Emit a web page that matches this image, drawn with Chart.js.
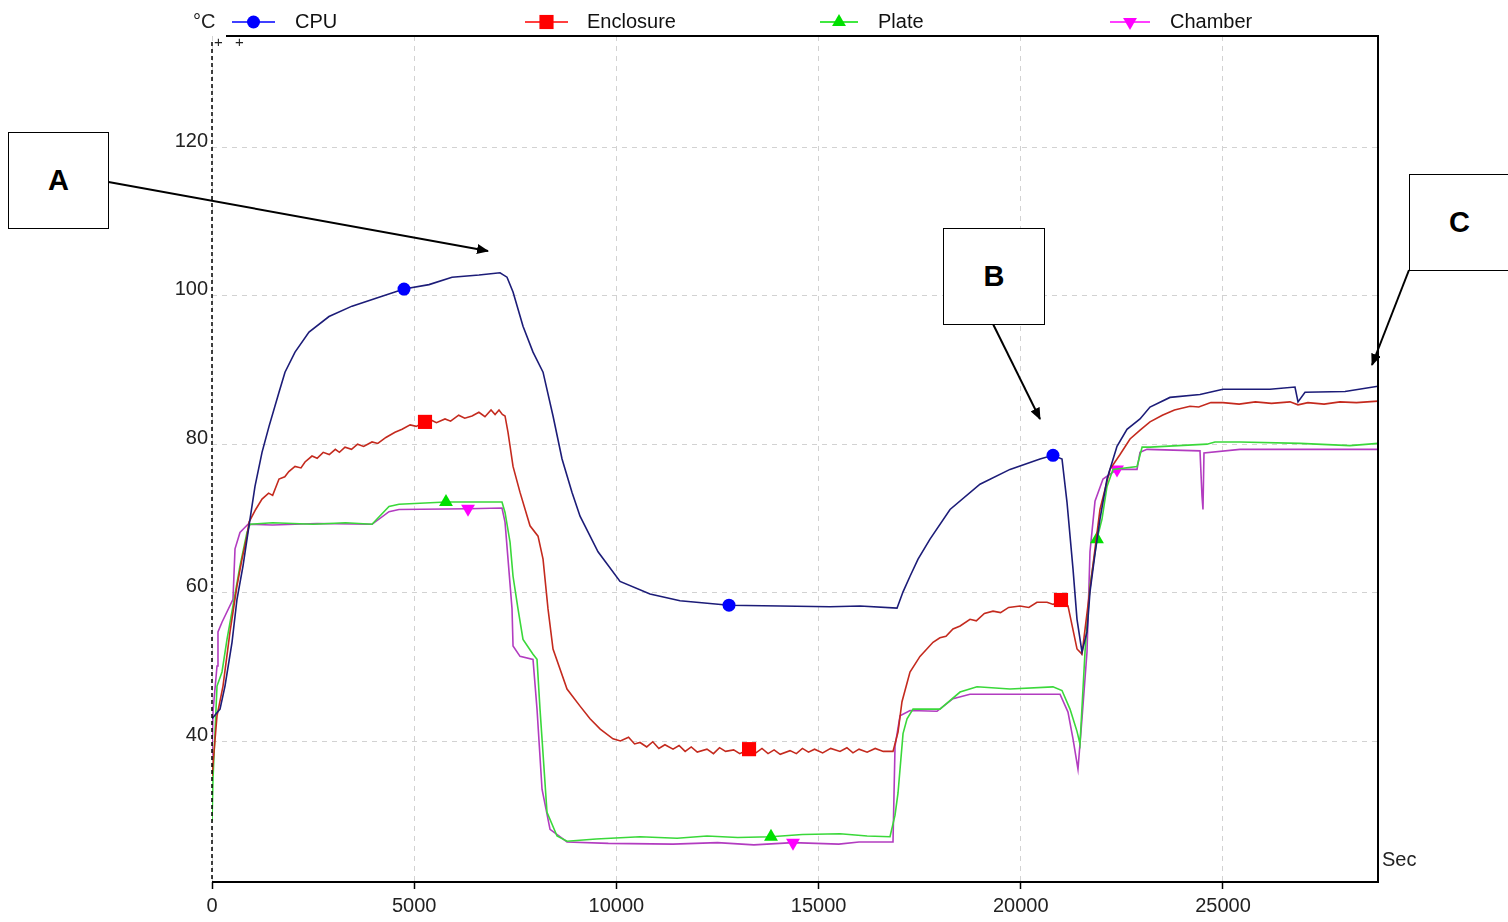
<!DOCTYPE html>
<html>
<head>
<meta charset="utf-8">
<script src="https://cdn.jsdelivr.net/npm/chart.js@4.4.1/dist/chart.umd.min.js"></script>
<style>
html,body{margin:0;padding:0;background:#fff;}
#wrap{position:relative;width:1508px;height:922px;overflow:hidden;}
#c{position:absolute;left:0;top:0;}
.box{position:absolute;border:1.5px solid #000;background:#fff;box-sizing:border-box;
 font-family:'Liberation Sans',Arial,sans-serif;font-weight:bold;font-size:29px;
 display:flex;align-items:center;justify-content:center;color:#000;}
svg{position:absolute;left:0;top:0;}
</style>
</head>
<body>
<div id="wrap">
<canvas id="c" width="1508" height="922"></canvas>
<svg width="1508" height="922" viewBox="0 0 1508 922">
 <defs>
  <marker id="ah" markerWidth="12" markerHeight="10" refX="11" refY="5" orient="auto" markerUnits="userSpaceOnUse">
   <path d="M0,0 L12,5 L0,10 z" fill="#000"/>
  </marker>
 </defs>
 <line x1="103" y1="181" x2="488" y2="251" stroke="#000" stroke-width="2" marker-end="url(#ah)"/>
 <line x1="993" y1="324" x2="1040" y2="419" stroke="#000" stroke-width="2" marker-end="url(#ah)"/>
 <line x1="1409" y1="270" x2="1372" y2="365" stroke="#000" stroke-width="2" marker-end="url(#ah)"/>
</svg>
<div class="box" style="left:8px;top:132px;width:101px;height:97px;">A</div>
<div class="box" style="left:943px;top:228px;width:102px;height:97px;">B</div>
<div class="box" style="left:1409px;top:174px;width:101px;height:97px;">C</div>
</div>
<script>
// ---- data (seconds, °C) ----
const seriesNames = ['CPU', 'Enclosure', 'Plate', 'Chamber'];
const xTicks = [0, 5000, 10000, 15000, 20000, 25000];
const yTicks = [40, 60, 80, 100, 120];

const cpuData = [
 [0,43.0],[198,44.3],[321,47.4],[495,53.3],[618,59.1],[767,63.6],[940,69.9],[1063,74.3],[1237,78.9],
 [1410,82.4],[1657,87.0],[1805,89.7],[2053,92.4],[2399,95.1],[2893,97.2],[3462,98.6],[4130,99.8],
 [4748,100.9],[5366,101.5],[5935,102.5],[6603,102.8],[7122,103.1],[7295,102.5],[7444,100.5],[7691,95.9],
 [7938,92.4],[8186,89.7],[8433,83.8],[8656,78.0],[8903,73.5],[9101,70.3],[9546,65.5],[10090,61.5],
 [10831,59.8],[11573,58.9],[12785,58.3],[14046,58.2],[15282,58.1],[16024,58.2],[16939,57.9],[17088,60.1],
 [17261,62.2],[17459,64.5],[17755,67.2],[18250,71.2],[18991,74.6],[19733,76.6],[20475,78.0],[20796,78.5],
 [21019,78.0],[21142,72.2],[21291,63.2],[21390,56.4],[21513,52.0],[21637,54.7],[21711,60.1],[21835,65.2],
 [21958,69.9],[22132,75.3],[22379,79.7],[22626,82.0],[22948,83.4],[23195,85.0],[23689,86.3],[24431,86.7],
 [25000,87.4],[26162,87.4],[26780,87.7],[26855,85.7],[27028,87.0],[28017,87.1],[28833,87.8]
];
const cpuMarks = [4748, 12785, 20796];

const enclosureData = [
 [0,35.3],[124,43.4],[272,47.4],[445,54.7],[618,60.9],[742,64.5],[865,67.6],[915,69.5],[1080,71.2],
 [1237,72.6],[1400,73.4],[1500,73.1],[1657,75.3],[1800,75.6],[1900,76.3],[2053,77.0],[2200,76.8],
 [2300,77.6],[2473,78.4],[2600,78.1],[2750,78.9],[2900,78.6],[3050,79.3],[3150,78.9],[3289,79.6],
 [3450,79.3],[3600,80.0],[3750,79.7],[3957,80.3],[4100,80.1],[4300,80.9],[4525,81.6],[4700,82.0],
 [4900,82.6],[5050,82.4],[5267,83.0],[5400,83.3],[5550,82.9],[5762,83.4],[5900,83.1],[6100,83.9],
 [6250,83.5],[6430,83.8],[6600,84.3],[6750,83.7],[6900,84.6],[7000,84.0],[7097,84.6],[7180,84.0],
 [7246,83.8],[7320,81.6],[7444,77.0],[7617,73.5],[7864,69.0],[8062,67.6],[8186,64.5],[8309,57.8],
 [8433,52.4],[8779,47.0],[9101,44.7],[9348,43.0],[9600,41.6],[9916,40.3],[10100,40.0],[10300,40.5],
 [10450,39.6],[10584,39.8],[10750,39.2],[10900,39.9],[11050,39.0],[11200,39.5],[11400,38.9],[11550,39.4],
 [11700,38.6],[11850,39.2],[12000,38.5],[12240,38.9],[12400,38.3],[12550,39.1],[12700,38.6],[12900,38.8],
 [13050,38.3],[13280,38.9],[13450,38.4],[13600,39.0],[13750,38.3],[13900,38.8],[14050,38.2],[14293,38.7],
 [14450,38.3],[14600,39.0],[14750,38.5],[14900,38.9],[15100,38.4],[15300,39.0],[15529,38.6],[15700,39.1],
 [15850,38.4],[16000,38.9],[16200,38.5],[16400,39.0],[16600,38.6],[16840,38.6],[16964,41.2],[17062,45.3],
 [17260,49.3],[17507,51.4],[17829,53.3],[18000,53.9],[18150,54.1],[18323,55.1],[18500,55.5],[18744,56.4],
 [18900,56.2],[19100,57.2],[19313,57.5],[19500,57.3],[19700,58.0],[19980,58.2],[20200,58.0],[20400,58.7],
 [20648,58.7],[20800,58.4],[20994,59.0],[21167,58.2],[21390,52.4],[21513,51.7],[21711,60.5],[21958,71.2],
 [22206,76.6],[22454,78.6],[22701,80.7],[22950,81.9],[23195,83.0],[23500,83.9],[23800,84.6],[24184,85.1],
 [24400,85.0],[24700,85.6],[25000,85.6],[25400,85.4],[25800,85.7],[26200,85.5],[26657,85.7],[26855,85.3],
 [27100,85.6],[27500,85.4],[27893,85.7],[28300,85.6],[28833,85.8]
];
const enclosureMarks = [5267, 13280, 20994];

const plateData = [
 [0,29.2],[25,34.9],[124,47.4],[247,49.3],[371,53.7],[519,58.2],[692,63.6],[865,68.1],[940,69.2],
 [1500,69.4],[2500,69.2],[3300,69.4],[3957,69.2],[4377,71.6],[4624,71.9],[5786,72.2],[7171,72.2],
 [7246,70.8],[7370,66.8],[7444,62.2],[7567,57.8],[7691,53.7],[7938,51.7],[8037,51.0],[8111,44.3],
 [8284,30.4],[8532,27.2],[8779,26.5],[9500,26.8],[10584,27.1],[11500,26.9],[12240,27.2],[13000,27.0],
 [13823,27.1],[14600,27.4],[15529,27.5],[16200,27.2],[16766,27.1],[16890,30.0],[16964,33.0],[17088,41.0],
 [17187,43.0],[17335,44.3],[18002,44.3],[18497,46.6],[18917,47.3],[19733,47.0],[20796,47.3],[21019,46.8],
 [21217,44.3],[21390,41.3],[21464,39.6],[21588,52.0],[21711,60.9],[21884,67.2],[22008,69.9],[22132,74.3],
 [22280,76.6],[22874,77.0],[23000,79.6],[23195,79.6],[24604,80.0],[24802,80.3],[25420,80.3],[26904,80.1],
 [28140,79.8],[28833,80.1]
];
const plateMarks = [5786, 13823, 21884];

const chamberData = [
 [0,38.0],[25,44.0],[124,50.1],[148,54.7],[247,56.0],[519,59.1],[569,65.9],[692,68.1],[890,69.2],
 [1500,69.1],[2600,69.3],[3957,69.2],[4377,70.9],[4624,71.2],[6331,71.3],[7171,71.4],[7246,69.5],
 [7320,64.5],[7419,57.8],[7444,52.8],[7617,51.4],[7938,51.0],[8037,44.3],[8161,33.5],[8359,28.1],
 [8779,26.4],[9800,26.2],[11400,26.1],[12500,26.3],[13400,26.0],[14367,26.3],[15500,26.1],[16000,26.4],
 [16840,26.4],[16890,39.3],[17014,43.4],[17261,44.1],[17928,44.0],[18323,45.7],[18744,46.3],[20970,46.3],
 [21167,43.9],[21291,40.3],[21414,36.2],[21513,43.0],[21637,52.0],[21711,65.5],[21835,72.3],[22033,75.3],
 [22379,76.6],[22874,76.6],[22948,78.9],[23121,79.3],[24431,79.1],[24481,73.0],[24505,71.2],[24530,78.8],
 [25420,79.3],[28833,79.3]
];
const chamberMarks = [6331, 14367, 22379];

// ---- styles ----
const FONT = "'Liberation Sans',Arial,sans-serif";
const FSIZE = 20;
const lineColors = ['#1c1c78', '#c42a1e', '#3ad83a', '#b23cc0'];
const markColors = ['#0000ff', '#ff0000', '#00e000', '#ff00ff'];
const shapes = ['circle', 'rect', 'triangle', 'triangle'];
const rots = [0, 0, 0, 180];
const radii = [6.5, 10, 8, 8];

const all = [cpuData, enclosureData, plateData, chamberData];
const marks = [cpuMarks, enclosureMarks, plateMarks, chamberMarks];

const datasets = all.map((d, i) => ({
  label: seriesNames[i],
  data: d.map(p => ({x: p[0], y: p[1]})),
  borderColor: lineColors[i],
  borderWidth: 1.6,
  backgroundColor: markColors[i],
  pointBackgroundColor: markColors[i],
  pointBorderColor: markColors[i],
  pointBorderWidth: 0,
  pointStyle: shapes[i],
  pointRotation: rots[i],
  pointRadius: ctx => (ctx.raw && marks[i].includes(ctx.raw.x)) ? radii[i] : 0,
  tension: 0,
  fill: false
}));

function shape(ctx, kind, x, y, r, rot, color) {
  ctx.save();
  ctx.fillStyle = color;
  ctx.beginPath();
  if (kind === 'circle') {
    ctx.arc(x, y, r, 0, Math.PI * 2);
  } else if (kind === 'rect') {
    const s = r * Math.SQRT1_2;
    ctx.rect(x - s, y - s, 2 * s, 2 * s);
  } else {
    const dir = rot === 180 ? -1 : 1;
    ctx.moveTo(x, y - dir * r);
    ctx.lineTo(x - r * 0.866, y + dir * r * 0.5);
    ctx.lineTo(x + r * 0.866, y + dir * r * 0.5);
    ctx.closePath();
  }
  ctx.fill();
  ctx.restore();
}

const framePlugin = {
  id: 'frame',
  afterDraw(chart) {
    const ctx = chart.ctx;
    const a = chart.chartArea;
    ctx.save();
    ctx.strokeStyle = '#000';
    ctx.lineWidth = 2;
    ctx.beginPath();
    ctx.moveTo(a.left + 14, a.top); ctx.lineTo(a.right, a.top);
    ctx.lineTo(a.right, a.bottom); ctx.lineTo(a.left, a.bottom);
    ctx.stroke();
    ctx.lineWidth = 1.5;
    ctx.setLineDash([4, 3]);
    ctx.beginPath();
    ctx.moveTo(a.left, a.top + 6); ctx.lineTo(a.left, a.bottom);
    ctx.stroke();
    ctx.setLineDash([]);
    // unit labels
    ctx.fillStyle = '#222';
    ctx.font = FSIZE + 'px ' + FONT;
    ctx.textBaseline = 'middle';
    ctx.textAlign = 'left';
    ctx.fillText('°C', 193, 22);
    ctx.fillText('Sec', a.right + 4, 860);
    ctx.font = '15px ' + FONT;
    ctx.fillText('+', a.left + 2, 43);
    ctx.fillText('+', a.left + 23, 43);
    // legend
    const items = [[232, 275, 295], [525, 568, 587], [820, 858, 878], [1110, 1150, 1170]];
    items.forEach((it, i) => {
      ctx.strokeStyle = markColors[i];
      ctx.lineWidth = 1.6;
      ctx.beginPath();
      ctx.moveTo(it[0], 22); ctx.lineTo(it[1], 22);
      ctx.stroke();
      shape(ctx, shapes[i], (it[0] + it[1]) / 2, 22, radii[i], rots[i], markColors[i]);
      ctx.fillStyle = '#111';
      ctx.font = FSIZE + 'px ' + FONT;
      ctx.fillText(seriesNames[i], it[2], 22);
    });
    ctx.restore();
  }
};

new Chart(document.getElementById('c'), {
  type: 'line',
  data: {datasets},
  plugins: [framePlugin],
  options: {
    responsive: false,
    animation: false,
    events: [],
    layout: {padding: {left: 0, top: 36, right: 130, bottom: 0}},
    plugins: {legend: {display: false}, tooltip: {enabled: false}},
    scales: {
      x: {
        type: 'linear', min: 0, max: 28833,
        afterBuildTicks: s => { s.ticks = xTicks.map(v => ({value: v})); },
        afterFit: s => { s.height = 40; },
        ticks: {font: {family: FONT, size: FSIZE}, color: '#222', padding: 5, maxRotation: 0, autoSkip: false,
                callback: v => String(v)},
        grid: {color: '#d2d2d2', lineWidth: 1, tickColor: '#000', tickLength: 7, tickWidth: 1.5},
        border: {display: false, dash: [5, 5]}
      },
      y: {
        type: 'linear', min: 21, max: 135,
        afterBuildTicks: s => { s.ticks = yTicks.map(v => ({value: v})); },
        afterFit: s => { s.width = 212; },
        ticks: {font: {family: FONT, size: FSIZE}, color: '#222', padding: 4, labelOffset: -6,
                callback: v => String(v)},
        grid: {color: '#d2d2d2', lineWidth: 1, drawTicks: false},
        border: {display: false, dash: [5, 5]}
      }
    }
  }
});
</script>
</body>
</html>
